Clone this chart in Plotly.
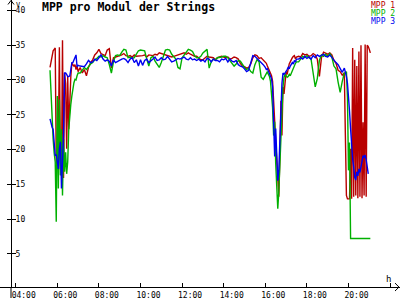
import plotly.graph_objects as go

# ---------------- data ----------------
# sampling segments of the time axis: (start, end, step in minutes)
time_segments = [("05:39", "07:00", 3), ("07:06", "16:00", 6), ("16:03", "17:30", 3),
                 ("17:36", "19:48", 6), ("19:51", "21:12", 3)]

series_names = ["MPP 1", "MPP 2", "MPP 3"]

mpp1 = [
    # 05:39 - 07:00
    31.8, 32.6, 33.4, 34.2, 34.4, 34.6, 18.3, 17.6, 20.5, 34.7,
    17.3, 16.2, 35.7, 15.9, 31.0, 29.5, 20.1, 30.5, 22.9, 28.6,
    30.5, 32.4, 32.2, 32.0, 32.2, 31.5, 32.0, 31.2,
    # 07:06 - 16:00
    31.8, 31.0, 31.5, 30.6, 31.8, 32.5, 32.9, 33.6, 33.9, 34.4,
    33.8, 33.6, 33.5, 34.3, 34.5, 31.7, 33.2, 33.3, 33.4, 33.4,
    33.6, 33.8, 33.5, 33.4, 33.5, 33.3, 33.6, 33.4, 33.4, 33.4,
    33.5, 33.6, 33.3, 33.6, 33.6, 33.5, 33.7, 33.6, 33.9, 33.8,
    33.6, 33.5, 33.4, 33.4, 33.3, 33.4, 33.5, 33.6, 33.6, 33.8,
    33.9, 33.7, 33.9, 33.7, 33.5, 33.4, 33.4, 33.2, 32.9, 32.9,
    33.1, 33.4, 33.3, 33.2, 33.2, 32.9, 33.2, 33.3, 33.4, 33.3,
    33.2, 33.3, 33.0, 33.1, 33.3, 33.2, 33.0, 32.4, 32.0, 31.9,
    31.7, 31.8, 32.3, 33.2, 33.6, 33.5, 33.1, 33.2, 32.9, 32.6,
    # 16:03 - 17:30
    32.4, 32.0, 31.6, 31.4, 31.0, 30.6, 29.8, 26.5, 24.0, 20.5,
    18.5, 16.0, 13.2, 19.0, 27.0, 22.0, 29.0, 28.0, 30.5, 31.2,
    30.8, 31.8, 32.3, 32.6, 33.0, 33.2, 33.4, 33.5, 33.0, 33.3,
    # 17:36 - 19:48
    33.4, 33.3, 33.8, 33.6, 33.7, 33.4, 33.5, 33.8, 33.6, 33.0,
    30.5, 33.2, 34.0, 33.8, 33.7, 33.9, 33.6, 32.8, 32.4, 31.4,
    31.2, 30.7, 31.0,
    # 19:51 - 21:12
    22.0, 13.4, 12.9, 12.9, 12.9, 20.1, 12.9, 34.6, 13.2, 32.9,
    13.4, 32.0, 13.0, 34.1, 13.2, 35.0, 13.0, 23.9, 13.4, 35.1,
    13.2, 35.0, 34.8, 34.4, 33.9, None, None, None,
]

mpp2 = [
    # 05:39 - 07:00
    31.4, 27.7, 24.4, 21.5, 19.5, 18.2, 9.6, 27.7, 14.4, 27.2,
    16.3, 22.9, 13.4, 21.5, 16.8, 19.6, 16.5, 18.2, 22.9, 25.3,
    26.5, 27.7, 29.0, 29.6, 30.1, 30.0, 30.6, 31.0,
    # 07:06 - 16:00
    31.0, 31.4, 31.8, 31.5, 32.0, 32.3, 32.5, 32.9, 33.1, 33.4,
    33.3, 33.5, 33.3, 33.2, 32.2, 31.0, 32.6, 33.5, 33.6, 33.5,
    34.0, 34.4, 34.3, 33.2, 33.3, 33.1, 33.2, 33.8, 34.2, 34.3,
    34.3, 34.2, 33.0, 32.0, 33.2, 33.4, 32.7, 32.2, 31.8, 32.5,
    33.4, 34.3, 34.4, 34.3, 33.7, 33.4, 33.0, 31.8, 31.6, 33.2,
    33.6, 34.0, 34.4, 34.3, 34.1, 33.5, 33.2, 33.2, 33.4, 33.9,
    34.1, 34.4, 31.7, 32.6, 33.0, 32.9, 33.2, 33.2, 33.3, 33.4,
    33.4, 33.2, 32.8, 32.4, 32.0, 32.3, 32.8, 32.7, 32.2, 31.8,
    31.5, 31.7, 31.2, 31.0, 32.2, 32.9, 32.6, 30.4, 30.1, 30.6,
    # 16:03 - 17:30
    31.0, 31.2, 30.8, 30.5, 29.8, 28.2, 26.0, 22.0, 24.0, 18.0,
    15.0, 11.5, 14.0, 17.5, 22.0, 26.0, 29.0, 30.4, 30.8, 30.6,
    30.4, 30.5, 30.8, 30.6, 31.0, 31.4, 31.8, 32.0, 32.4, 32.6,
    # 17:36 - 19:48
    32.6, 33.0, 33.4, 33.2, 33.5, 33.2, 33.0, 31.0, 29.0, 30.2,
    32.8, 33.6, 33.4, 33.7, 33.4, 33.8, 33.3, 32.0, 31.6, 29.7,
    28.2, 29.8, 31.0,
    # 19:51 - 21:12
    31.0, 31.2, 27.5, 17.0, 21.0, 7.2, 7.2, 7.2, 7.2, 7.2,
    7.2, 7.2, 7.2, 7.2, 7.2, 7.2, 7.2, 7.2, 7.2, 7.2,
    7.2, 7.2, 7.2, 7.2, 7.2, None, None, None,
]

mpp3 = [
    # 05:39 - 07:00
    24.4, 23.6, 23.2, 22.9, 21.0, 19.1, 19.3, 17.8, 17.2, 20.1,
    21.1, 14.4, 18.5, 22.0, 31.0, 31.0, 30.8, 30.5, 30.5, 30.6,
    31.5, 32.5, 32.5, 32.8, 33.2, 33.6, 31.9, 32.1,
    # 07:06 - 16:00
    32.0, 32.0, 31.9, 32.3, 32.8, 32.5, 32.6, 33.0, 32.8, 33.2,
    33.6, 33.0, 32.7, 32.9, 32.7, 32.0, 32.9, 32.5, 32.7, 32.8,
    33.0, 33.1, 32.9, 32.5, 33.0, 33.2, 32.5, 32.9, 32.0, 32.9,
    32.1, 32.8, 33.0, 32.5, 32.7, 33.0, 33.3, 32.8, 32.9, 33.2,
    32.9, 33.0, 33.4, 33.0, 32.6, 32.7, 32.9, 33.1, 33.0, 33.2,
    33.3, 33.0, 32.9, 33.2, 32.9, 33.0, 32.8, 33.0, 32.7, 32.9,
    32.6, 33.1, 33.0, 32.6, 33.0, 32.8, 32.8, 32.6, 33.0, 32.9,
    33.1, 32.6, 33.0, 32.7, 32.6, 32.8, 32.2, 32.0, 31.9, 31.6,
    31.2, 31.4, 32.5, 33.5, 33.4, 33.1, 32.9, 32.6, 32.2, 31.8,
    # 16:03 - 17:30
    31.5, 31.6, 31.2, 30.8, 30.5, 30.2, 29.0, 25.0, 19.0, 23.0,
    17.5, 15.5, 17.0, 22.0, 26.5, 29.5, 31.0, 30.8, 31.0, 31.4,
    31.5, 31.8, 31.6, 32.0, 32.2, 32.5, 32.3, 32.8, 32.6, 33.0,
    # 17:36 - 19:48
    33.0, 33.2, 33.0, 33.4, 33.1, 33.3, 33.0, 33.5, 33.2, 33.6,
    33.4, 33.5, 33.7, 33.4, 33.3, 33.6, 33.2, 32.9, 32.5, 32.2,
    31.6, 31.1, 31.7,
    # 19:51 - 21:12
    31.2, 30.5, 29.5, 28.0, 25.5, 23.0, 20.5, 18.6, 17.5, 16.0,
    15.6, 16.8, 16.2, 17.2, 16.7, 17.5, 18.2, 19.1, 18.9, 19.2,
    18.5, 17.5, 16.5, None, None, None, None, None,
]

x_tick_vals = [4, 6, 8, 10, 12, 14, 16, 18, 20, 22]
x_tick_text = ["04:00", "06:00", "08:00", "10:00", "12:00", "14:00", "16:00", "18:00", "20:00", "22:00"]
y_tick_vals = [5, 10, 15, 20, 25, 30, 35, 40]
title_text = "MPP pro Modul der Strings"

# ---------------- build ----------------
def to_min(s):
    h, m = s.split(":")
    return int(h) * 60 + int(m)

hours = []
for a, b, step in time_segments:
    t = to_min(a)
    while t <= to_min(b):
        hours.append(t / 60.0)
        t += step

for s in (mpp1, mpp2, mpp3):
    assert len(s) == len(hours), (len(s), len(hours))

colors = ["#B80000", "#00B000", "#0000F0"]
W, H = 400, 300
FONT = "DejaVu Sans Mono"

fig = go.Figure()
for name, vals, col in zip(series_names, (mpp1, mpp2, mpp3), colors):
    fig.add_trace(go.Scatter(x=hours, y=vals, name=name, mode="lines",
                             line=dict(color=col, width=1.4), connectgaps=False))

def px(x):
    return x / W

def py(y):
    return 1 - y / H

AX = 11  # y-axis pixel position
XAXIS_PY = 289

fig.update_layout(
    width=W, height=H, margin=dict(l=0, r=0, t=0, b=0),
    paper_bgcolor="white", plot_bgcolor="white", showlegend=False,
    xaxis=dict(domain=[0, 1], range=[3.2452, 22.476], showgrid=False, zeroline=False,
               showline=True, linecolor="black", linewidth=1,
               tickvals=x_tick_vals, ticktext=x_tick_text, ticks="inside", ticklen=4,
               tickcolor="black", tickwidth=1, ticklabelshift=8,
               tickfont=dict(family=FONT, size=8, color="black")),
    yaxis=dict(domain=[1 - XAXIS_PY / H, 1], range=[0.214, 41.5], showgrid=False,
               zeroline=False, anchor="free", position=AX / W, side="right",
               showline=True, linecolor="black", linewidth=1,
               tickvals=y_tick_vals, ticks="outside", ticklen=4, tickcolor="black",
               ticklabelstandoff=-2,
               tickfont=dict(family=FONT, size=8, color="black")),
    yaxis2=dict(domain=[1 - XAXIS_PY / H, 1], range=[0.214, 41.5], overlaying="y",
                anchor="free", position=AX / W, side="left", showgrid=False,
                zeroline=False, showline=False, tickvals=y_tick_vals, ticks="outside",
                ticklen=4, tickcolor="black", showticklabels=False),
)
# empty trace so that the second (tick-only) y axis is drawn
fig.add_trace(go.Scatter(x=[None], y=[None], yaxis="y2", showlegend=False, hoverinfo="skip"))

line = dict(color="black", width=1)
shapes = [
    # y-axis extension below the x-axis
    dict(type="line", xref="paper", yref="paper", x0=px(AX), x1=px(AX), y0=py(XAXIS_PY), y1=0, line=line),
    # top arrow head
    dict(type="line", xref="paper", yref="paper", x0=px(AX - 3), y0=py(4.5), x1=px(AX), y1=py(0.5), line=line),
    dict(type="line", xref="paper", yref="paper", x0=px(AX + 3), y0=py(4.5), x1=px(AX), y1=py(0.5), line=line),
    # right arrow head
    dict(type="line", xref="paper", yref="paper", x0=px(395), y0=py(XAXIS_PY - 4), x1=px(399), y1=py(XAXIS_PY), line=line),
    dict(type="line", xref="paper", yref="paper", x0=px(395), y0=py(XAXIS_PY + 4), x1=px(399), y1=py(XAXIS_PY), line=line),
]
fig.update_layout(shapes=shapes)

legend_text = "<br>".join(
    '<span style="color:%s;font-size:8px">%s</span>' % (c, n) for n, c in zip(series_names, colors)
)

ann = [
    dict(text="<b>" + title_text + "</b>", x=px(40), y=py(7.5), xanchor="left", yanchor="middle",
         font=dict(family=FONT, size=11.5, color="black")),
    dict(text='<span style="font-size:7px">V</span>', x=px(15), y=py(0), xanchor="left",
         yanchor="top", borderpad=0, font=dict(family=FONT, size=4.5, color="black")),
    dict(text="h", x=px(384), y=py(281), xanchor="left", yanchor="middle",
         font=dict(family=FONT, size=9, color="black")),
    dict(text=legend_text, x=px(396), y=py(0), xanchor="right", yanchor="top", align="right",
         borderpad=0, font=dict(family=FONT, size=6.2, color="black")),
]
for a in ann:
    a.update(xref="paper", yref="paper", showarrow=False)
fig.update_layout(annotations=ann)

fig.write_html("out.html")
